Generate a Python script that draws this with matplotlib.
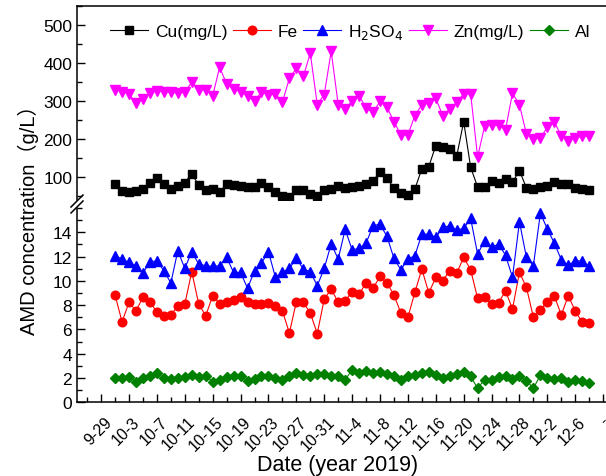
import numpy as np
import matplotlib
matplotlib.use('Agg')
import matplotlib.pyplot as plt
import matplotlib.transforms as mtransforms
from matplotlib.lines import Line2D
from matplotlib.ticker import MultipleLocator

plt.rcParams['font.family'] = ['Liberation Sans', 'Noto Sans CJK SC']

# one sample per day, 10-1 .. 12-8
cu = [83, 63, 60, 63, 68, 86, 97, 82, 70, 77, 86, 109, 79, 67, 69, 60, 82, 80, 78, 74,
      74, 86, 75, 60, 51, 47, 65, 65, 55, 50, 66, 69, 76, 72, 75, 77, 83, 91, 113, 97,
      71, 59, 54, 69, 122, 128, 183, 179, 174, 155, 246, 126, 74, 75, 91, 85, 96, 87, 117, 72,
      69, 74, 76, 87, 82, 82, 71, 69, 67]
fe = [8.83, 6.63, 8.23, 7.54, 8.64, 8.23, 7.46, 7.13, 7.21, 7.90, 8.09, 10.75, 8.09, 7.13, 8.77,
      8.09, 8.23, 8.42, 8.64, 8.23, 8.09, 8.09, 8.17, 7.95, 7.54, 5.70, 8.28, 8.23, 7.35, 5.66,
      8.50, 9.33, 8.23, 8.36, 9.10, 8.91, 9.82, 9.38, 10.37, 9.82, 8.83, 7.35, 7.0, 9.05, 10.97,
      9.0, 10.29, 10.01, 10.83, 10.64, 11.93, 10.91, 8.56, 8.64, 8.09, 8.17, 9.19, 7.68, 10.7,
      9.46, 7.0, 7.62, 8.28, 8.77, 7.19, 8.77, 7.54, 6.58, 6.53]
h2so4 = [12.07, 11.8, 11.52, 11.25, 10.64, 11.57, 11.65, 10.83, 9.82, 12.48, 11.03, 12.4, 11.38,
         11.25, 11.19, 11.25, 11.93, 10.7, 10.7, 9.38, 10.83, 11.47, 12.4, 10.29, 10.7, 11.03,
         11.85, 10.97, 10.75, 9.6, 11.03, 13.05, 11.8, 14.23, 12.56, 12.67, 13.1, 14.54, 14.67,
         13.66, 11.85, 10.91, 11.8, 12.07, 13.85, 13.85, 13.58, 14.4, 14.54, 14.18, 14.32, 15.14,
         12.2, 13.3, 12.76, 13.03, 12.12, 10.29, 14.86, 11.93, 11.25, 15.58, 14.26, 13.11, 11.74,
         11.3, 11.65, 11.65, 11.19]
zn = [330, 325, 319, 295, 306, 321, 327, 325, 323, 321, 323, 350, 330, 330, 314, 389, 345, 332,
      325, 314, 299, 325, 316, 319, 297, 360, 386, 365, 426, 291, 317, 431, 291, 278, 301, 314,
      282, 271, 299, 284, 246, 211, 211, 262, 290, 295, 307, 262, 279, 297, 319, 319, 153, 234,
      237, 236, 225, 321, 290, 214, 201, 203, 231, 246, 208, 196, 203, 208, 208]
al = [2.0, 2.0, 2.05, 1.7, 2.0, 2.14, 2.41, 2.0, 1.95, 2.0, 2.05, 2.25, 2.05, 2.19, 1.7, 1.87,
      2.05, 2.19, 2.14, 1.78, 1.95, 2.14, 2.19, 2.0, 1.87, 2.19, 2.41, 2.25, 2.14, 2.33, 2.37,
      2.19, 2.14, 1.85, 2.68, 2.41, 2.6, 2.41, 2.52, 2.33, 2.14, 1.87, 2.14, 2.25, 2.41, 2.52,
      2.25, 2.0, 2.14, 2.33, 2.52, 2.14, 1.15, 1.87, 1.87, 2.05, 2.19, 1.95, 2.14, 1.78, 1.15,
      2.25, 2.0, 1.95, 2.0, 1.65, 1.87, 1.78, 1.6]

date_labels = ['9-29', '10-3', '10-7', '10-11', '10-15', '10-19', '10-23', '10-27', '10-31',
               '11-4', '11-8', '11-12', '11-16', '11-20', '11-24', '11-28', '12-2', '12-6', '-']

days = np.arange(len(cu))

W, H = 606, 477
fig = plt.figure(figsize=(W / 100, H / 100), dpi=100)

def px_axes(x0, y0, x1, y1):
    return fig.add_axes([x0 / W, 1 - y1 / H, (x1 - x0) / W, (y1 - y0) / H])

ax_top = px_axes(77, 7, 608, 201)
ax_bot = px_axes(77, 209, 608, 403.3)

lw = 0.8
ax_top.plot(days, cu, '-s', color='black', lw=lw, ms=5.3, label='Cu(mg/L)')
ax_top.plot([], [], '-o', color='#ff0000', lw=lw, ms=6.2, label='Fe')
ax_top.plot([], [], '-^', color='#0000ff', lw=lw, ms=6.8, label='H$_2$SO$_4$')
ax_top.plot(days, zn, '-v', color='#ff00ff', lw=lw, ms=6.8, label='Zn(mg/L)')
ax_top.plot([], [], '-D', color='#008000', lw=lw, ms=5.5, label='Al')

ax_bot.plot(days, fe, '-o', color='#ff0000', lw=lw, ms=6.2)
ax_bot.plot(days, h2so4, '-^', color='#0000ff', lw=lw, ms=6.8)
ax_bot.plot(days, al, '-D', color='#008000', lw=lw, ms=5.5)

xlim = (-5.46, 70.7)
for ax in (ax_top, ax_bot):
    ax.set_xlim(*xlim)
    ax.spines['right'].set_visible(False)
    ax.tick_params(which='both', direction='in', labelsize=12.5, width=1)
    ax.tick_params(which='major', length=6)
    ax.tick_params(which='minor', length=3.5)
    for s in ax.spines.values():
        s.set_linewidth(1.1)

ax_top.spines['bottom'].set_visible(False)
ax_top.tick_params(axis='x', which='both', bottom=False, labelbottom=False)
ax_top.set_ylim(40, 550)
ax_top.set_yticks([100, 200, 300, 400, 500])
ax_top.yaxis.set_minor_locator(MultipleLocator(50))

ax_bot.spines['top'].set_visible(False)
ax_bot.set_ylim(0, 16)
ax_bot.set_yticks(np.arange(0, 15, 2))
ax_bot.yaxis.set_minor_locator(MultipleLocator(1))
ax_bot.set_xticks(np.arange(-2, 71, 4))
ax_bot.set_xticks(np.arange(-4, 71, 4), minor=True)
ax_bot.set_xticklabels(date_labels, rotation=45, ha='right', va='center',
                       rotation_mode='anchor', fontsize=11.5)
ax_bot.tick_params(axis='x', which='major', length=6, pad=12)
ax_bot.tick_params(axis='x', which='minor', length=3.5)
xlabels = ax_bot.get_xticklabels()
for k, lab in enumerate(xlabels):
    dx = 8 if k < len(xlabels) - 1 else 3
    lab.set_transform(lab.get_transform() +
                      mtransforms.ScaledTranslation(dx / 100, 0, fig.dpi_scale_trans))

# axis break marks
for dy in (-3, 3):
    yc = 205 + dy
    fig.add_artist(Line2D([71 / W, 83 / W], [1 - (yc + 6) / H, 1 - (yc - 6) / H],
                          color='black', lw=1.1))

ax_top.legend(loc='upper left', bbox_to_anchor=(0.062, 0.915), ncol=5, frameon=False,
              fontsize=12.5, handlelength=2.2, handletextpad=0.4, columnspacing=0.3,
              borderpad=0, borderaxespad=0)

fig.text(28 / W, 1 - 215 / H, 'AMD concentration（g/L）', rotation=90, fontsize=14.5,
         ha='center', va='center')
fig.text(338 / W, 1 - 466 / H, 'Date (year 2019)', fontsize=15.5, ha='center', va='center')

fig.savefig('out.png', dpi=100)
